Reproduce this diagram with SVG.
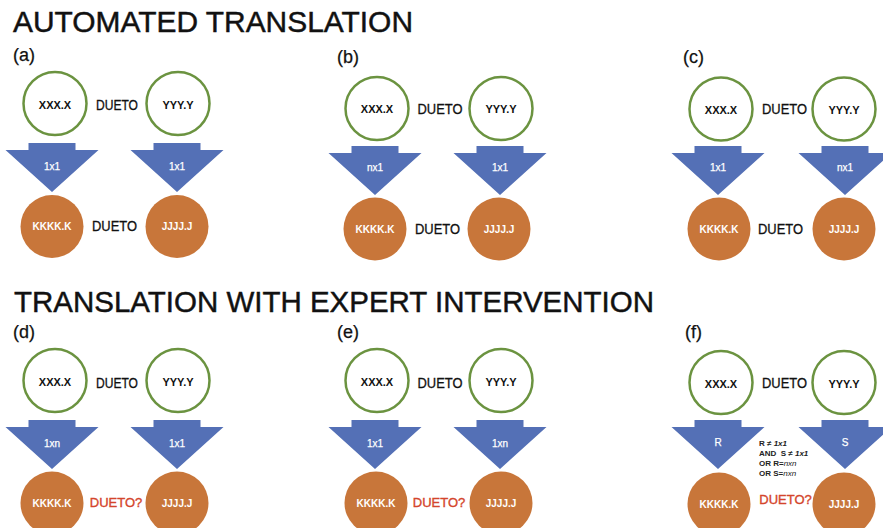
<svg xmlns="http://www.w3.org/2000/svg" xmlns:xlink="http://www.w3.org/1999/xlink" width="883" height="528" viewBox="0 0 883 528">
<defs>
<style>
text{font-family:"Liberation Sans",Arial,sans-serif}
.title{font-size:29px;fill:#111;stroke:#111;stroke-width:0.45}
.lbl{font-size:18px;fill:#111;stroke:#111;stroke-width:0.25}
.src{fill:#fff;stroke:#6b9340;stroke-width:2.5}
.tgt{fill:#c8763a}
.arr{fill:#5470b6}
.srct{font-size:11px;font-weight:bold;fill:#111;text-anchor:middle}
.tgtt{font-size:10px;font-weight:bold;fill:#fff;text-anchor:middle}
.arrt{font-size:10px;fill:#fff;stroke:#fff;stroke-width:0.25;text-anchor:middle}
.du{font-size:14px;fill:#111;stroke:#111;stroke-width:0.3;text-anchor:middle}
.duq{font-size:13px;fill:#d4452c;stroke:#d4452c;stroke-width:0.35;text-anchor:middle}
.cond{font-size:8px;font-weight:bold;fill:#222}
</style>
<path id="arrow" d="M-23.5,0 H23.5 V7 H46.5 L0,49 L-46.5,7 H-23.5 Z"/>
</defs>
<rect width="883" height="528" fill="#fff"/>
<text class="title" x="13" y="32" textLength="400" lengthAdjust="spacingAndGlyphs">AUTOMATED TRANSLATION</text>
<text class="title" x="14" y="312" textLength="640" lengthAdjust="spacingAndGlyphs">TRANSLATION WITH EXPERT INTERVENTION</text>

<g id="connectors">
<use href="#arrow" class="arr" x="52" y="143"/>
<use href="#arrow" class="arr" x="177" y="143"/>
<use href="#arrow" class="arr" x="375" y="146"/>
<use href="#arrow" class="arr" x="500" y="146"/>
<use href="#arrow" class="arr" x="718" y="146"/>
<use href="#arrow" class="arr" x="845" y="146"/>
<use href="#arrow" class="arr" x="52" y="420"/>
<use href="#arrow" class="arr" x="177" y="420"/>
<use href="#arrow" class="arr" x="375" y="420"/>
<use href="#arrow" class="arr" x="500" y="420"/>
<use href="#arrow" class="arr" x="718" y="420"/>
<use href="#arrow" class="arr" x="845" y="420"/>
<text class="arrt" x="52" y="170">1x1</text>
<text class="arrt" x="177" y="170">1x1</text>
<text class="arrt" x="375" y="171">nx1</text>
<text class="arrt" x="500" y="171">1x1</text>
<text class="arrt" x="718" y="171">1x1</text>
<text class="arrt" x="845" y="171">nx1</text>
<text class="arrt" x="52" y="447">1xn</text>
<text class="arrt" x="177" y="447">1x1</text>
<text class="arrt" x="375" y="447">1x1</text>
<text class="arrt" x="500" y="447">1xn</text>
<text class="arrt" x="718" y="446">R</text>
<text class="arrt" x="845" y="446">S</text>
</g>

<g id="panel-a">
<text class="lbl" x="13" y="61">(a)</text>
<g id="a-xxx"><circle class="src" cx="55" cy="103.5" r="31.5"/><text class="srct" x="55" y="109">XXX.X</text></g>
<text class="du" x="117" y="110" textLength="42" lengthAdjust="spacingAndGlyphs">DUETO</text>
<g id="a-yyy"><circle class="src" cx="178" cy="103.5" r="31.5"/><text class="srct" x="178" y="109">YYY.Y</text></g>
<g id="a-kkk"><circle class="tgt" cx="52" cy="226.5" r="31.5"/><text class="tgtt" x="52" y="230">KKKK.K</text></g>
<text class="du" x="114.5" y="231" textLength="45" lengthAdjust="spacingAndGlyphs">DUETO</text>
<g id="a-jjj"><circle class="tgt" cx="177" cy="226.5" r="31.5"/><text class="tgtt" x="177" y="230">JJJJ.J</text></g>
</g>

<g id="panel-b">
<text class="lbl" x="337" y="63">(b)</text>
<g id="b-xxx"><circle class="src" cx="377" cy="108.5" r="31.5"/><text class="srct" x="377" y="113">XXX.X</text></g>
<text class="du" x="440" y="114" textLength="45" lengthAdjust="spacingAndGlyphs">DUETO</text>
<g id="b-yyy"><circle class="src" cx="501" cy="108.5" r="31.5"/><text class="srct" x="501" y="113">YYY.Y</text></g>
<g id="b-kkk"><circle class="tgt" cx="375" cy="229" r="31.5"/><text class="tgtt" x="375" y="233">KKKK.K</text></g>
<text class="du" x="437.5" y="234" textLength="45" lengthAdjust="spacingAndGlyphs">DUETO</text>
<g id="b-jjj"><circle class="tgt" cx="499" cy="229" r="31.5"/><text class="tgtt" x="499" y="233">JJJJ.J</text></g>
</g>

<g id="panel-c">
<text class="lbl" x="683" y="63">(c)</text>
<g id="c-xxx"><circle class="src" cx="721" cy="109" r="31.5"/><text class="srct" x="721" y="114">XXX.X</text></g>
<text class="du" x="784.5" y="114" textLength="45" lengthAdjust="spacingAndGlyphs">DUETO</text>
<g id="c-yyy"><circle class="src" cx="844" cy="109" r="31.5"/><text class="srct" x="844" y="114">YYY.Y</text></g>
<g id="c-kkk"><circle class="tgt" cx="719" cy="229" r="31.5"/><text class="tgtt" x="719" y="233">KKKK.K</text></g>
<text class="du" x="780.5" y="234" textLength="45" lengthAdjust="spacingAndGlyphs">DUETO</text>
<g id="c-jjj"><circle class="tgt" cx="844" cy="229" r="31.5"/><text class="tgtt" x="844" y="233">JJJJ.J</text></g>
</g>

<g id="panel-d">
<text class="lbl" x="13" y="338">(d)</text>
<g id="d-xxx"><circle class="src" cx="55" cy="380.5" r="31.5"/><text class="srct" x="55" y="386">XXX.X</text></g>
<text class="du" x="117" y="388" textLength="42" lengthAdjust="spacingAndGlyphs">DUETO</text>
<g id="d-yyy"><circle class="src" cx="178" cy="380.5" r="31.5"/><text class="srct" x="178" y="386">YYY.Y</text></g>
<g id="d-kkk"><circle class="tgt" cx="52" cy="503" r="31.5"/><text class="tgtt" x="52" y="507">KKKK.K</text></g>
<text class="duq" x="116" y="507">DUETO?</text>
<g id="d-jjj"><circle class="tgt" cx="177" cy="503" r="31.5"/><text class="tgtt" x="177" y="507">JJJJ.J</text></g>
</g>

<g id="panel-e">
<text class="lbl" x="337" y="338">(e)</text>
<g id="e-xxx"><circle class="src" cx="377" cy="380.5" r="31.5"/><text class="srct" x="377" y="386">XXX.X</text></g>
<text class="du" x="440" y="388" textLength="45" lengthAdjust="spacingAndGlyphs">DUETO</text>
<g id="e-yyy"><circle class="src" cx="501" cy="380.5" r="31.5"/><text class="srct" x="501" y="386">YYY.Y</text></g>
<g id="e-kkk"><circle class="tgt" cx="376" cy="503" r="31.5"/><text class="tgtt" x="376" y="507">KKKK.K</text></g>
<text class="duq" x="439" y="507">DUETO?</text>
<g id="e-jjj"><circle class="tgt" cx="501" cy="503" r="31.5"/><text class="tgtt" x="501" y="507">JJJJ.J</text></g>
</g>

<g id="panel-f">
<text class="lbl" x="685" y="338">(f)</text>
<g id="f-xxx"><circle class="src" cx="721" cy="382.5" r="31.5"/><text class="srct" x="721" y="388">XXX.X</text></g>
<text class="du" x="784.5" y="388" textLength="45" lengthAdjust="spacingAndGlyphs">DUETO</text>
<g id="f-yyy"><circle class="src" cx="844" cy="382.5" r="31.5"/><text class="srct" x="844" y="388">YYY.Y</text></g>
<g id="f-kkk"><circle class="tgt" cx="719" cy="504" r="31.5"/><text class="tgtt" x="719" y="508">KKKK.K</text></g>
<text class="duq" x="785.5" y="504">DUETO?</text>
<g id="f-jjj"><circle class="tgt" cx="844" cy="504" r="31.5"/><text class="tgtt" x="844" y="508">JJJJ.J</text></g>
<g id="f-cond">
<text class="cond" x="759" y="446">R ≠ <tspan font-style="italic">1x1</tspan></text>
<text class="cond" x="759" y="456" xml:space="preserve">AND  S ≠ <tspan font-style="italic">1x1</tspan></text>
<text class="cond" x="759" y="466">OR R=<tspan font-style="italic" font-weight="normal">nxn</tspan></text>
<text class="cond" x="759" y="476">OR S=<tspan font-style="italic" font-weight="normal">nxn</tspan></text>
</g>
</g>
</svg>
